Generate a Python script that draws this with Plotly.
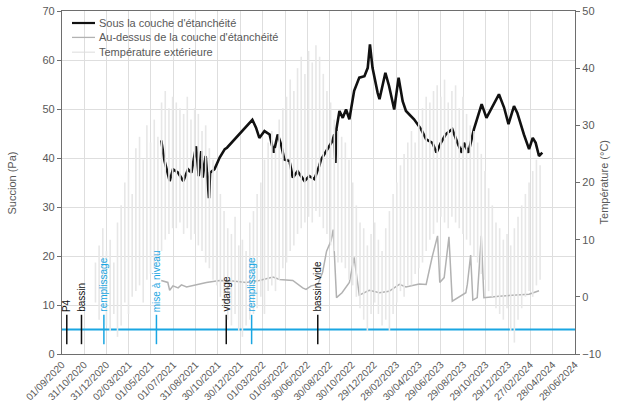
import plotly.graph_objects as go
import pandas as pd

# ---------------- data ----------------
tick_dates = ["2020-09-01", "2020-10-31", "2020-12-31", "2021-03-02", "2021-05-01", "2021-07-01",
              "2021-08-31", "2021-10-30", "2021-12-30", "2022-03-01", "2022-05-01", "2022-06-30",
              "2022-08-30", "2022-10-30", "2022-12-29", "2023-02-28", "2023-04-30", "2023-06-29",
              "2023-08-29", "2023-10-29", "2023-12-29", "2024-02-27", "2024-04-28", "2024-06-28"]
tick_labels = [pd.Timestamp(d).strftime("%d/%m/%Y") for d in tick_dates]
left_ticks = [0, 10, 20, 30, 40, 50, 60, 70]
right_ticks = [-10, 0, 10, 20, 30, 40, 50]

sous_dates = ["2021-05-29", "2021-06-07", "2021-06-21", "2021-06-30", "2021-07-14", "2021-07-28",
              "2021-08-10", "2021-08-19", "2021-09-01", "2021-09-08", "2021-09-15", "2021-09-19",
              "2021-09-27", "2021-09-30", "2021-10-06", "2021-10-09", "2021-10-21", "2021-11-04",
              "2021-11-18", "2021-11-24",
              "2022-02-01", "2022-02-11", "2022-02-20", "2022-03-06", "2022-03-20", "2022-03-31",
              "2022-04-11", "2022-04-20", "2022-04-29", "2022-05-13", "2022-05-22", "2022-06-04",
              "2022-06-23", "2022-07-06", "2022-07-20", "2022-08-02", "2022-08-07", "2022-09-07",
              "2022-09-12", "2022-09-15", "2022-09-18", "2022-09-26", "2022-10-05", "2022-10-14",
              "2022-10-23", "2022-11-05", "2022-11-19", "2022-12-03", "2022-12-12", "2022-12-18",
              "2022-12-25", "2023-01-08", "2023-01-13", "2023-01-29", "2023-02-08", "2023-02-22",
              "2023-03-06", "2023-03-17", "2023-03-26", "2023-04-17", "2023-05-06", "2023-05-20",
              "2023-06-06", "2023-06-17", "2023-06-29", "2023-07-12", "2023-07-30", "2023-08-13",
              "2023-08-25", "2023-08-31", "2023-09-12", "2023-09-27", "2023-10-18", "2023-10-31",
              "2023-11-16", "2023-12-04", "2023-12-18", "2023-12-30", "2024-01-14", "2024-01-23",
              "2024-02-10", "2024-02-24", "2024-03-05", "2024-03-13", "2024-03-22", "2024-03-31"]
sous_values = [43.6, 39.4, 35.3, 37.7, 37.0, 35.3,
               37.7, 37.0, 42.4, 36.3, 41.4, 36.0,
               40.4, 38.0, 31.8, 37.0, 37.7, 40.1,
               41.8, 42.1,
               47.8, 46.2, 44.1, 45.5, 44.8, 41.1,
               44.8, 42.8, 39.7, 39.4, 36.0, 37.3,
               35.3, 36.3, 35.7, 38.4, 39.7, 43.5,
               44.8, 39.0, 46.0, 49.6, 48.2, 49.9,
               47.9, 53.7, 56.4, 56.7, 58.4, 63.2,
               58.4, 53.3, 52.0, 57.4, 54.7, 49.9,
               56.4, 51.6, 49.6, 47.9, 45.9, 43.8,
               43.1, 41.1, 43.1, 44.8, 45.9, 43.1,
               41.1, 43.1, 41.1, 45.9, 51.0, 48.2,
               50.6, 53.0, 50.3, 46.9, 50.6, 49.2,
               44.8, 41.8, 44.1, 43.1, 40.4, 41.1]

dessus_dates = ["2021-05-29", "2021-06-16", "2021-06-21", "2021-06-30", "2021-07-14", "2021-07-23",
                "2021-08-06", "2021-09-01", "2021-09-29", "2021-11-04", "2021-12-10", "2022-01-15",
                "2022-02-02", "2022-02-20", "2022-03-29", "2022-04-16", "2022-05-22", "2022-06-18",
                "2022-06-27", "2022-07-11", "2022-07-29", "2022-08-11", "2022-08-22", "2022-09-03",
                "2022-09-09", "2022-09-18", "2022-10-03", "2022-10-23", "2022-11-05", "2022-11-19",
                "2022-12-16", "2023-01-13", "2023-02-08", "2023-03-08", "2023-03-26", "2023-05-01",
                "2023-05-20", "2023-06-05", "2023-06-20", "2023-06-26", "2023-07-08", "2023-07-21",
                "2023-07-30", "2023-09-05", "2023-09-09", "2023-09-18", "2023-09-24", "2023-10-06",
                "2023-10-17", "2023-10-24", "2023-12-04", "2024-01-14", "2024-02-24", "2024-03-22"]
dessus_values = [15.0, 14.6, 13.0, 13.9, 13.5, 14.1,
                 13.7, 14.2, 14.6, 15.0, 14.9, 14.6,
                 14.8, 15.0, 15.7, 15.2, 15.0, 13.5,
                 13.2, 13.9, 14.2, 16.6, 21.0, 23.1,
                 25.4, 11.5, 12.5, 14.6, 19.7, 12.0,
                 13.0, 12.5, 12.8, 14.2, 13.7, 14.3,
                 14.2, 19.7, 24.1, 14.6, 15.6, 23.9,
                 10.8, 12.5, 14.2, 20.2, 11.0, 11.5,
                 24.1, 11.5, 11.8, 12.0, 12.2, 12.9]

temp_dates = pd.date_range("2020-12-01", "2024-03-25", freq="10D")
temp_high = [6, 9, 12, 8, 10, 6, 13, 16, 20, 22, 18, 26, 28, 24, 30, 27, 31, 28, 34, 36, 33, 35,
             34, 33, 32, 35, 31, 33, 32, 29, 30, 26, 24, 22, 18, 15, 12, 11, 14, 9, 10, 8, 13,
             15, 18, 20, 24, 27, 29, 26, 31, 33, 35, 38, 36, 40, 42, 39, 43, 41, 44, 42, 39, 36,
             34, 31, 29, 28, 27, 24, 20, 16, 13, 12, 9, 11, 13, 10, 8, 12, 15, 18, 20, 23, 25,
             27, 29, 27, 31, 33, 35, 34, 36, 37, 35, 38, 34, 36, 37, 33, 35, 32, 30, 29, 27, 25,
             22, 19, 16, 13, 12, 10, 11, 9, 12, 14, 16, 18, 20, 22, 24, 23]
temp_low = [-1, -4, 0, -5, -6, -3, -7, -5, -1, -3, 0, 1, 2, -1, 3, 4, 5, 6, 8, 10, 11, 12,
            12, 13, 11, 12, 10, 11, 9, 8, 6, 5, 3, 2, 0, -2, -4, -5, -3, -6, -7, -5, -4,
            -3, -2, 0, -3, 1, 2, 1, 3, 5, 6, 8, 9, 11, 12, 13, 14, 13, 15, 14, 12, 11,
            9, 8, 6, 6, 5, 3, 2, 0, -2, -4, -6, -3, -1, -3, -5, -4, -6, -3, -1, 1, 0,
            2, 2, 4, 5, 6, 8, 10, 11, 13, 14, 13, 12, 14, 13, 12, 11, 10, 9, 7, 6, 4,
            3, 1, 0, -2, -3, -4, -2, -6, -8, -4, -2, 0, 1, 0, 2, 3]

event_dates = ["2020-09-14", "2020-10-24", "2020-12-24", "2021-05-16", "2021-11-22", "2022-01-30", "2022-07-29"]
event_labels = ["P4", "bassin", "remplissage", "mise à niveau", "vidange", "remplissage", "bassin vide"]
event_kinds = ["k", "k", "b", "b", "k", "b", "k"]
event_bottom, event_top = 2, 8
reference_level = 5
x_start, x_end = "2020-09-01", "2024-06-28"

legend_names = ["Sous la couche d'étanchéité", "Au-dessus de la couche d'étanchéité", "Température extérieure"]

# ---------------- styling ----------------
BLUE = "#1AA6E2"
BLACK = "#111111"
GREY = "#b2b2b2"
TEMP = "#e7e7e7"
TXT = "#595959"
AXIS = "#6e6e6e"
FONT = "Liberation Sans, Arial, sans-serif"

fig = go.Figure()

# temperature: one low-high stroke per sample date
tx, ty = [], []
for d, lo, hi in zip(temp_dates, temp_low, temp_high):
    tx += [d, d, None]
    ty += [lo, hi, None]
fig.add_trace(go.Scatter(x=tx, y=ty, mode="lines", name=legend_names[2],
                         line=dict(color=TEMP, width=1.6), yaxis="y2", showlegend=False))

fig.add_trace(go.Scatter(x=dessus_dates, y=dessus_values, mode="lines", name=legend_names[1],
                         line=dict(color=GREY, width=1.5), showlegend=False))
fig.add_trace(go.Scatter(x=sous_dates, y=sous_values, mode="lines", name=legend_names[0],
                         line=dict(color=BLACK, width=2.6), showlegend=False))

# reference line
fig.add_trace(go.Scatter(x=[x_start, x_end], y=[reference_level, reference_level], mode="lines",
                         line=dict(color=BLUE, width=2), showlegend=False, hoverinfo="skip"))

# events
for kind, col in (("k", BLACK), ("b", BLUE)):
    ex, ey = [], []
    for d, k in zip(event_dates, event_kinds):
        if k == kind:
            ex += [d, d, None]
            ey += [event_bottom, event_top, None]
    fig.add_trace(go.Scatter(x=ex, y=ey, mode="lines", line=dict(color=col, width=1.5),
                             showlegend=False, hoverinfo="skip"))

annotations = []
for d, lab, k in zip(event_dates, event_labels, event_kinds):
    annotations.append(dict(x=d, y=event_top, xref="x", yref="y", text=lab, showarrow=False,
                            textangle=-90, xanchor="center", yanchor="bottom", yshift=1,
                            font=dict(family=FONT, size=10, color=BLUE if k == "b" else BLACK)))

# axis titles
annotations.append(dict(x=-0.0975, y=0.5, xref="paper", yref="paper", text="Succion (Pa)",
                        showarrow=False, textangle=-90, xanchor="center", yanchor="middle",
                        font=dict(family=FONT, size=11, color=TXT)))
annotations.append(dict(x=1.0565, y=0.5, xref="paper", yref="paper", text="Température (°C)",
                        showarrow=False, textangle=-90, xanchor="center", yanchor="middle",
                        font=dict(family=FONT, size=11, color=TXT)))

# legend (drawn inside the plot, top-left)
legend_colors = [BLACK, GREY, "#dcdcdc"]
legend_widths = [2.2, 1.3, 1.0]
legend_rows = [0.965, 0.923, 0.880]
shapes = []
for name, col, w, yy in zip(legend_names, legend_colors, legend_widths, legend_rows):
    shapes.append(dict(type="line", xref="paper", yref="paper", x0=0.0195, x1=0.0643,
                       y0=yy, y1=yy, line=dict(color=col, width=w)))
    annotations.append(dict(x=0.0682, y=yy, xref="paper", yref="paper", text=name,
                            showarrow=False, xanchor="left", yanchor="middle",
                            font=dict(family=FONT, size=11, color=TXT)))

fig.update_layout(
    width=620, height=405,
    margin=dict(l=62, r=45, t=11, b=51, autoexpand=False),
    paper_bgcolor="white", plot_bgcolor="white",
    font=dict(family=FONT, color=TXT, size=11),
    showlegend=False,
    annotations=annotations,
    shapes=shapes,
    xaxis=dict(type="date", range=[x_start, x_end], tickvals=tick_dates, ticktext=tick_labels,
               tickangle=-45, tickfont=dict(size=10, color=TXT), showgrid=True,
               gridcolor="#dedede", gridwidth=1, showline=True, linecolor=AXIS, linewidth=1.3,
               mirror=True, ticks="", zeroline=False, ticklabeloverflow="allow", automargin=False),
    yaxis=dict(range=[0, 70], tickvals=left_ticks, showgrid=True, gridcolor="#dedede", gridwidth=1,
               showline=True, linecolor=AXIS, linewidth=1.3, ticks="outside", ticklen=4,
               tickcolor=AXIS, tickfont=dict(size=11, color=TXT), zeroline=False,
               ticklabeloverflow="allow", automargin=False),
    yaxis2=dict(range=[-10, 50], tickvals=right_ticks, overlaying="y", side="right", showgrid=False,
                showline=True, linecolor=AXIS, linewidth=1.3, ticks="outside", ticklen=4,
                tickcolor=AXIS, tickfont=dict(size=11, color=TXT), zeroline=False,
                ticklabeloverflow="allow", automargin=False),
)

# remove the default 8px page margin so the 620x405 figure fills the window exactly
fig.write_html("out.html", config={"displayModeBar": False},
               post_script="document.body.style.margin='0';")
